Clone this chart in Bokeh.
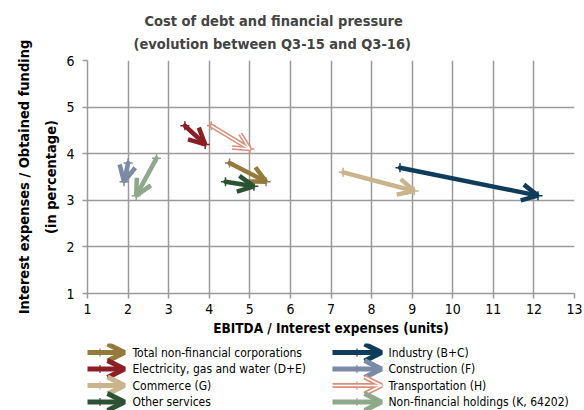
from bokeh.plotting import figure
from bokeh.models import Range1d, Arrow, OpenHead, ColumnDataSource, Title, FixedTicker, LabelSet
from bokeh.layouts import column
from bokeh.embed import file_html
from bokeh.resources import INLINE
from bokeh.core.properties import value

series = ["Total non-financial corporations", "Electricity, gas and water (D+E)",
          "Commerce (G)", "Other services", "Industry (B+C)", "Construction (F)",
          "Transportation (H)", "Non-financial holdings (K, 64202)"]
x_q3_15 = [4.5, 3.4, 7.3, 4.4, 8.7, 2.0, 4.05, 2.7]
y_q3_15 = [3.8, 4.6, 3.6, 3.4, 3.7, 3.8, 4.6, 3.9]
x_q3_16 = [5.4, 3.9, 9.05, 5.1, 12.1, 1.9, 5.0, 2.2]
y_q3_16 = [3.4, 4.2, 3.2, 3.3, 3.1, 3.4, 4.1, 3.1]
colors = ["#957a3c", "#8c1f24", "#c9b48c", "#2b5233", "#0f3c5a", "#7b8aa6", "#d98f7a", "#8ea88a"]
marker_colors = ["#808080", "#8c1f24", "#c9b48c", "#2b5233", "#0f3c5a", "#7b8aa6", "#d98f7a", "#8ea88a"]
outlined = [False, False, False, False, False, False, True, False]
x_ticks = list(range(1, 14))
y_ticks = list(range(1, 7))

FONT = "'Liberation Sans Narrow', 'DejaVu Sans Condensed', 'Liberation Sans'"
GRID = "#9a9a9a"

p = figure(width=584, height=343, x_range=Range1d(1, 13), y_range=Range1d(1, 6),
           output_backend="svg", toolbar_location=None,
           min_border_left=87, min_border_right=10, min_border_top=60, min_border_bottom=50)
p.outline_line_color = None
p.background_fill_color = "white"
p.border_fill_color = "white"

for ax, ticks in ((p.xaxis, x_ticks), (p.yaxis, y_ticks)):
    ax.ticker = FixedTicker(ticks=ticks)
    ax.axis_line_color = GRID
    ax.axis_line_width = 1.5
    ax.major_tick_line_color = GRID
    ax.major_tick_line_width = 1.5
    ax.major_tick_in = 0
    ax.major_tick_out = 5
    ax.minor_tick_line_color = None
    ax.major_label_text_font = FONT
    ax.major_label_text_font_size = "14px"
    ax.major_label_text_color = "black"
    ax.axis_label_text_font = FONT
    ax.axis_label_text_font_style = "bold"
    ax.axis_label_text_color = "black"

p.xaxis.axis_label_text_font_size = "13.5px"
p.yaxis.axis_label_text_font_size = "14.5px"
p.yaxis.axis_label_text_line_height = 1.7
p.xaxis.major_label_standoff = 5
p.yaxis.major_label_standoff = 8
p.xaxis.axis_label = "EBITDA / Interest expenses (units)"
p.xaxis.axis_label_standoff = 3
p.yaxis.axis_label = "Interest expenses / Obtained funding\n(in percentage)"
p.yaxis.axis_label_standoff = 4

p.xgrid.ticker = FixedTicker(ticks=x_ticks)
p.ygrid.ticker = FixedTicker(ticks=y_ticks)
p.grid.grid_line_color = GRID
p.grid.grid_line_width = 1.5

t2 = Title(text="(evolution between Q3-15 and Q3-16)", align="left", offset=46,
           text_font=FONT, text_font_size="14.5px", text_font_style="bold", standoff=17)
t1 = Title(text="Cost of debt and financial pressure", align="left", offset=57,
           text_font=FONT, text_font_size="14.5px", text_font_style="bold", standoff=-6)
p.add_layout(t2, "above")
p.add_layout(t1, "above")

for i in range(len(series)):
    src = ColumnDataSource(dict(x0=[x_q3_15[i]], y0=[y_q3_15[i]], x1=[x_q3_16[i]], y1=[y_q3_16[i]]))
    p.add_layout(Arrow(x_start="x0", y_start="y0", x_end="x1", y_end="y1", source=src,
                       line_color=colors[i], line_width=4.5, line_cap="round",
                       end=OpenHead(size=16, line_color=colors[i], line_width=4.5)))
    if outlined[i]:
        p.add_layout(Arrow(x_start="x0", y_start="y0", x_end="x1", y_end="y1", source=src,
                           line_color="white", line_width=1.5,
                           end=OpenHead(size=16, line_color="white", line_width=1.5)))
    p.scatter([x_q3_15[i], x_q3_16[i]], [y_q3_15[i], y_q3_16[i]], marker="cross",
              size=9, line_color=marker_colors[i], line_width=1.5)

# legend panel (its frame is aligned with the plot frame: 87..574 px)
L = figure(width=584, height=67, x_range=Range1d(87, 574), y_range=Range1d(410, 343),
           output_backend="svg", toolbar_location=None,
           min_border=0, min_border_left=0, min_border_right=0, min_border_top=0, min_border_bottom=0)
L.axis.visible = False
L.grid.visible = False
L.outline_line_color = None
row_y = [352, 368.5, 385, 401.5]
col_x = [(75, 124, 132), (332, 381, 388)]
lx, ly, lt = [], [], []
for i in range(len(series)):
    c, r = divmod(i, 4)
    xa, xb, xt = col_x[c]
    yy = row_y[r]
    src = ColumnDataSource(dict(x0=[xa], y0=[yy], x1=[xb], y1=[yy]))
    L.add_layout(Arrow(x_start="x0", y_start="y0", x_end="x1", y_end="y1", source=src,
                       line_color=colors[i], line_width=5,
                       end=OpenHead(size=17, line_color=colors[i], line_width=5)))
    if outlined[i]:
        L.add_layout(Arrow(x_start="x0", y_start="y0", x_end="x1", y_end="y1", source=src,
                           line_color="white", line_width=1.5,
                           end=OpenHead(size=17, line_color="white", line_width=1.5)))
    L.scatter([(xa + xb) / 2], [yy], marker="cross", size=8,
              line_color=marker_colors[i], line_width=1.2)
    lx.append(xt); ly.append(yy); lt.append(series[i])

L.add_layout(LabelSet(x="x", y="y", text="t", source=ColumnDataSource(dict(x=lx, y=ly, t=lt)),
                      text_font=value(FONT), text_font_size="12px", text_baseline="middle",
                      text_align="left", text_color="black"))

layout = column(p, L, spacing=0)
open("out.html", "w").write(file_html(layout, INLINE))
